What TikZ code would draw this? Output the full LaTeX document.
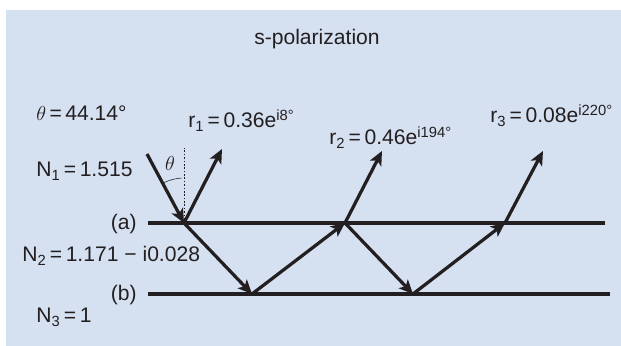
\documentclass[tikz,border=0pt]{standalone}
\usepackage{fontspec}
\setmainfont{Liberation Sans}
\usetikzlibrary{arrows.meta}
\definecolor{panelblue}{RGB}{213,224,241}
\definecolor{inkblack}{RGB}{35,31,32}
\tikzset{
    interface/.style={draw=inkblack, line width=2.4pt},
    ray/.style={draw=inkblack, line width=2.3pt, -{Stealth[length=10pt, width=9pt, inset=2.5pt]}},
    normal/.style={draw=inkblack, line width=0.4pt, dash pattern=on 1.2pt off 1.2pt},
    lbl/.style={inner sep=0pt, font=\fontsize{15}{17}\selectfont, text=inkblack}
}

\begin{document}
\begin{tikzpicture}[x=0.025cm, y=0.025cm]
    \useasboundingbox (0,0) rectangle (621,346);
    \fill[panelblue] (6,0) rectangle (621,336);

    % interfaces
    \coordinate (aL) at (148,123);
    \coordinate (aR) at (605,123);
    \coordinate (bL) at (148,52);
    \coordinate (bR) at (610,52);
    \draw [interface] (aL) -- (aR);
    \draw [interface] (bL) -- (bR);

    % ray path
    \coordinate (src) at (147,192);
    \coordinate (a1) at (184,123);
    \coordinate (b1) at (252,52);
    \coordinate (a2) at (345,123);
    \coordinate (b2) at (413,52);
    \coordinate (a3) at (505,123);
    \coordinate (r1tip) at (222,197);
    \coordinate (r2tip) at (382,195);
    \coordinate (r3tip) at (543,195);
    \coordinate (ntop) at (184,198);

    \draw [normal] (a1) -- (ntop);
    \draw [inkblack, line width=0.4pt] (a1) ++(117:45) arc[start angle=117, end angle=93, radius=45];

    \draw [ray] (src) -- (a1);
    \draw [ray] (a1) -- (r1tip);
    \draw [ray] (a1) -- (b1);
    \draw [ray] (b1) -- (a2);
    \draw [ray] (a2) -- (r2tip);
    \draw [ray] (a2) -- (b2);
    \draw [ray] (b2) -- (a3);
    \draw [ray] (a3) -- (r3tip);

    % labels
    \node (title) [lbl, anchor=base] at (317,301) {s-polarization};
    \node (angle) [lbl, anchor=base west] at (36,225) {$\theta$\,=\,44.14°};
    \node (thetamark) [lbl] at (170,183) {$\theta$};
    \node (r1) [lbl, anchor=base west] at (188,218) {r\textsubscript{1}\,=\,0.36e\textsuperscript{i8°}};
    \node (r2) [lbl, anchor=base west] at (329,201) {r\textsubscript{2}\,=\,0.46e\textsuperscript{i194°}};
    \node (r3) [lbl, anchor=base west] at (490,223) {r\textsubscript{3}\,=\,0.08e\textsuperscript{i220°}};
    \node (n1) [lbl, anchor=base west] at (36,169) {N\textsubscript{1}\,=\,1.515};
    \node (n2) [lbl, anchor=base west] at (22,84) {N\textsubscript{2}\,=\,1.171 − i0.028};
    \node (n3) [lbl, anchor=base west] at (36,23) {N\textsubscript{3}\,=\,1};
    \node (la) [lbl, anchor=base east] at (137,116) {(a)};
    \node (lb) [lbl, anchor=base east] at (137,45) {(b)};
\end{tikzpicture}
\end{document}
